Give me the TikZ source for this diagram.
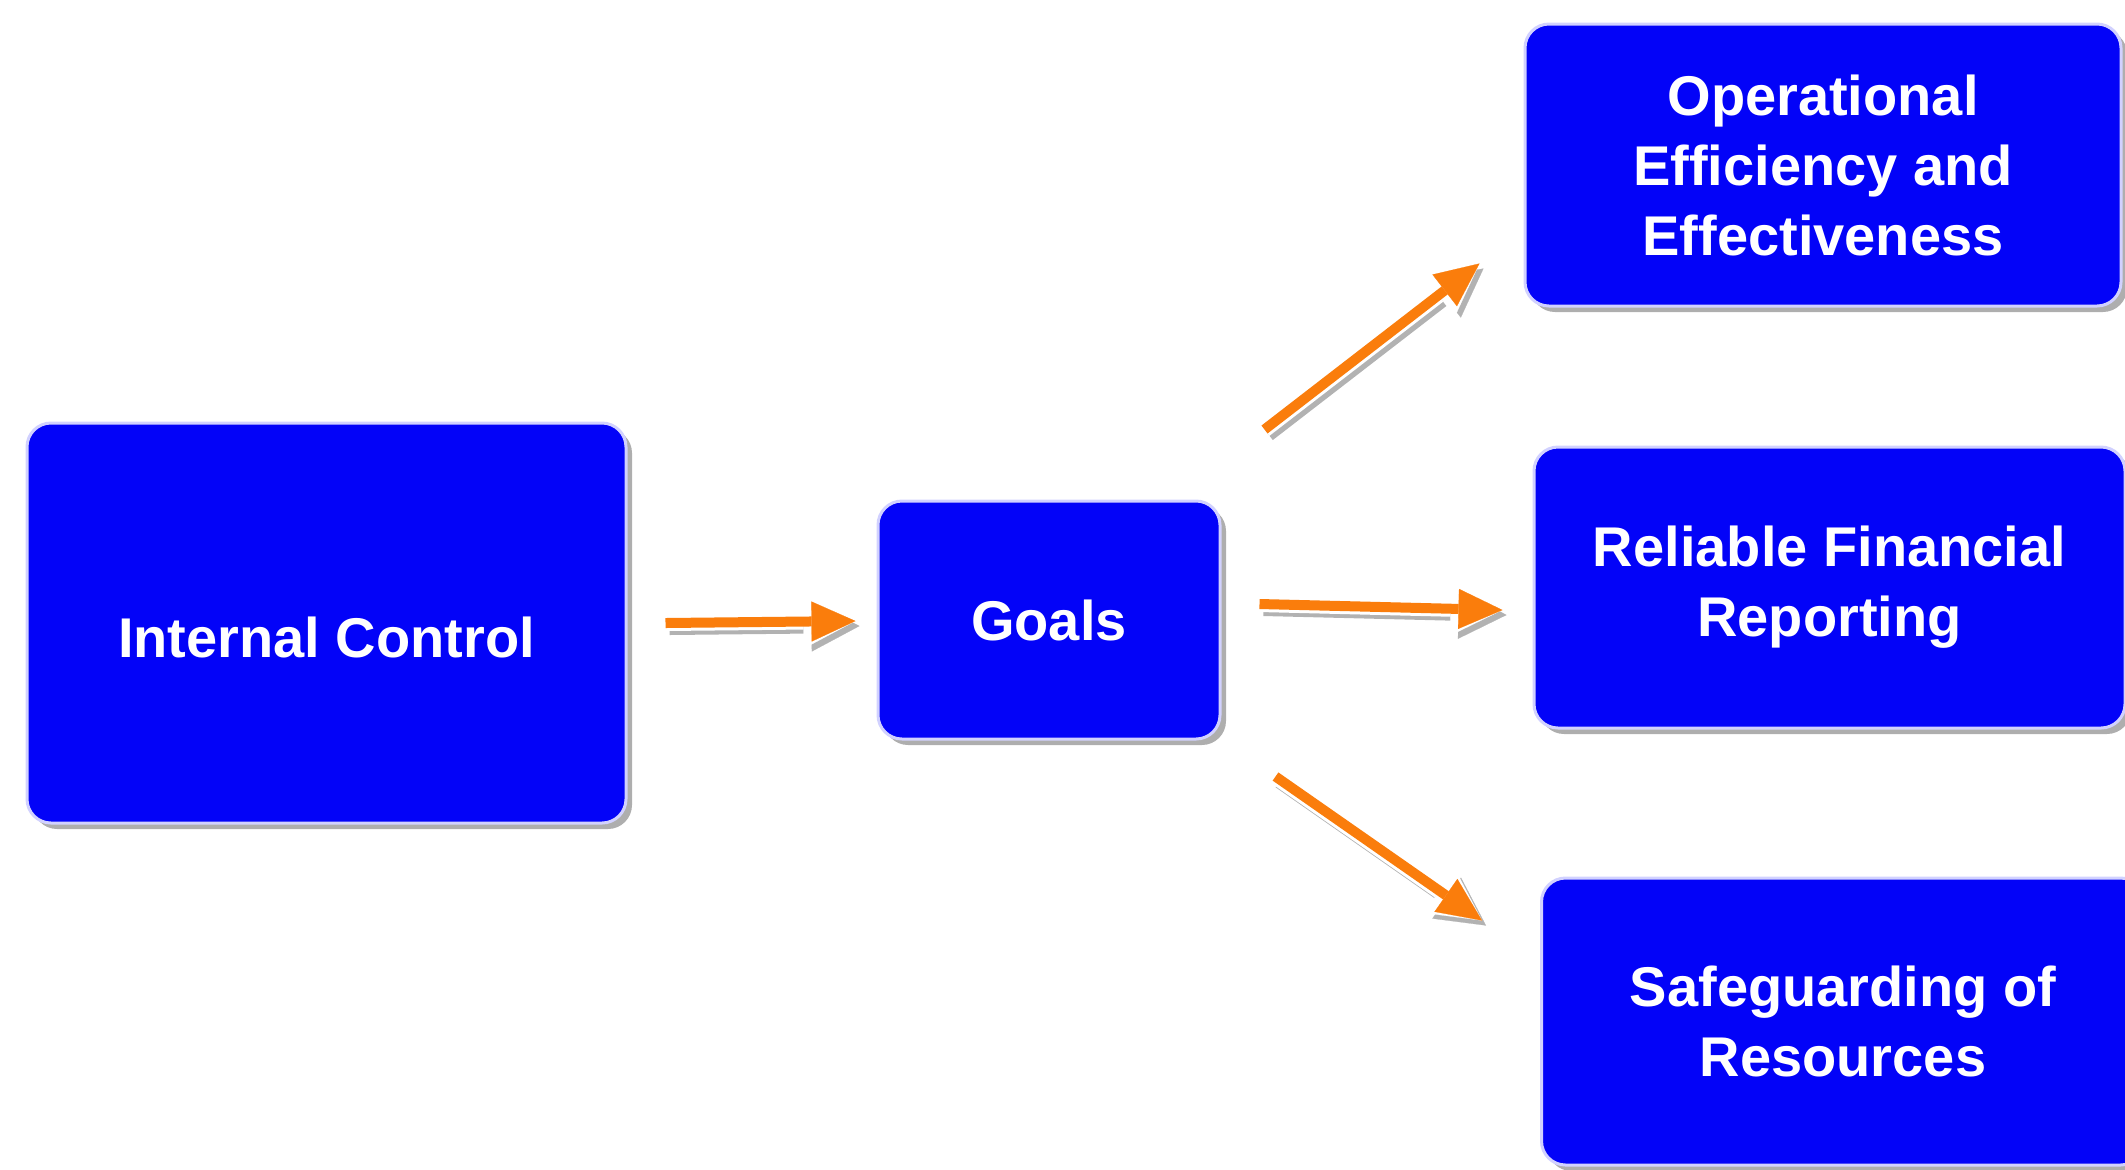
\documentclass[tikz,border=0pt]{standalone}
\usepackage{fontspec}
\setmainfont{Liberation Sans}
\usetikzlibrary{arrows.meta,calc,shadows}

\definecolor{boxblue}{RGB}{3,3,248}
\definecolor{arrowor}{RGB}{250,125,12}

\tikzset{
  goalbox/.style={rounded corners=12pt, fill=boxblue, draw=blue!18!white, line width=1.5pt,
    text=white, align=center, font=\fontsize{28}{35}\selectfont\bfseries,
    drop shadow={shadow xshift=3pt, shadow yshift=-3pt, fill=black!45, opacity=.7}},
  flow/.style={draw=arrowor, line width=5pt, -{Triangle[length=22pt,width=20pt,line width=0.1pt]},
    preaction={draw=black!30, line width=7pt, -{Triangle[length=24pt,width=25pt,line width=0.1pt]},
      transform canvas={shift={(2pt,-2.5pt)}}},
    preaction={draw=white, line width=8pt, -{Triangle[length=26pt,width=27pt,line width=0.1pt]}}}
}

\begin{document}
\begin{tikzpicture}[x=0.5pt,y=0.5pt,yscale=-1,xscale=1]
\useasboundingbox (0,0) rectangle (2125,1169);

% Boxes
\node [goalbox, minimum width=299.5pt, minimum height=200pt] (ic) at (326.5,623) {\raisebox{-17pt}[0pt][0pt]{Internal Control}};
\node [goalbox, minimum width=171pt, minimum height=119pt] (goals) at (1049,620) {Goals};
\node [goalbox, minimum width=298pt, minimum height=141pt] (op) at (1823,165) {Operational\\Efficiency and\\Effectiveness};
\node [goalbox, minimum width=295.5pt, minimum height=140.5pt] (rel) at (1829.5,587.5) {Reliable Financial\\Reporting};
\node [goalbox, minimum width=301.5pt, minimum height=143.5pt] (safe) at (1843,1021.5) {Safeguarding of\\Resources};

% Arrows
\draw [flow] ($(ic.east)+(38,0)$) -- ($(goals.west)+(-21,1)$);
\draw [flow] ($(goals.north east)+(43,-70)$) -- ($(op.south west)+(-44,-44)$);
\draw [flow] ($(goals.east)+(38,-16)$) -- ($(rel.west)+(-30,22.5)$);
\draw [flow] ($(goals.south east)+(54,36)$) -- ($(safe.north west)+(-58,44)$);

\end{tikzpicture}
\end{document}
